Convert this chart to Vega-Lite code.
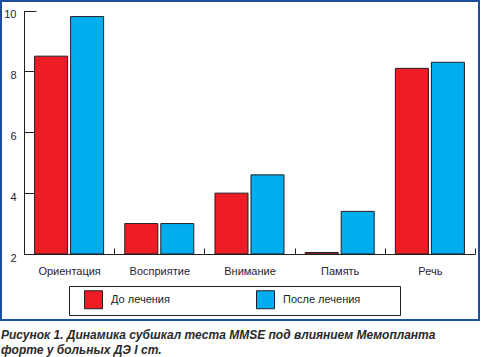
{
  "$schema": "https://vega.github.io/schema/vega-lite/v6.json",
  "width": 478,
  "height": 319,
  "autosize": {"type": "none"},
  "padding": {"left": 1, "top": 1, "right": 2, "bottom": 37},
  "background": "white",
  "config": {
    "view": {"stroke": "#1d4f9f", "strokeWidth": 2},
    "font": "Liberation Sans"
  },
  "title": {
    "text": ["Рисунок 1. Динамика субшкал теста MMSE под влиянием Мемопланта", "форте у больных ДЭ I ст."],
    "orient": "bottom",
    "anchor": "start",
    "frame": "group",
    "offset": 10,
    "font": "Liberation Sans",
    "fontSize": 12,
    "fontWeight": "bold",
    "fontStyle": "italic",
    "color": "#2a2a2a",
    "lineHeight": 15
  },
  "data": {
    "values": [
      {"category": "Ориентация", "series": "До лечения", "value": 8.5},
      {"category": "Ориентация", "series": "После лечения", "value": 9.8},
      {"category": "Восприятие", "series": "До лечения", "value": 3.0},
      {"category": "Восприятие", "series": "После лечения", "value": 3.0},
      {"category": "Внимание", "series": "До лечения", "value": 4.0},
      {"category": "Внимание", "series": "После лечения", "value": 4.6},
      {"category": "Память", "series": "До лечения", "value": 2.05},
      {"category": "Память", "series": "После лечения", "value": 3.4},
      {"category": "Речь", "series": "До лечения", "value": 8.1},
      {"category": "Речь", "series": "После лечения", "value": 8.3}
    ]
  },
  "mark": {"type": "bar", "stroke": "#231F20", "strokeWidth": 1},
  "encoding": {
    "x": {
      "field": "category",
      "type": "nominal",
      "sort": ["Ориентация", "Восприятие", "Внимание", "Память", "Речь"],
      "scale": {"range": [23, 474], "paddingInner": 0, "paddingOuter": 0},
      "axis": {
        "orient": "bottom",
        "offset": -66,
        "title": null,
        "tickBand": "extent",
        "tickSize": -6,
        "labelPadding": 17,
        "labelAngle": 0,
        "domainColor": "#231F20",
        "tickColor": "#231F20",
        "labelColor": "#24243a",
        "labelFontSize": 11,
        "labelFont": "Liberation Sans"
      }
    },
    "xOffset": {
      "field": "series",
      "sort": ["До лечения", "После лечения"],
      "scale": {"paddingInner": 0.0833, "paddingOuter": 0.294}
    },
    "y": {
      "field": "value",
      "type": "quantitative",
      "scale": {"domain": [2, 10], "range": [253, 9.5], "nice": false, "zero": false},
      "axis": {
        "orient": "left",
        "offset": -23,
        "title": null,
        "values": [2, 4, 6, 8, 10],
        "grid": false,
        "tickSize": -12,
        "labelPadding": 20,
        "labelOffset": 4,
        "labelFlush": false,
        "labelOverlap": false,
        "domainColor": "#231F20",
        "tickColor": "#231F20",
        "labelColor": "#24243a",
        "labelFontSize": 11,
        "labelFont": "Liberation Sans"
      }
    },
    "y2": {"datum": 2},
    "color": {
      "field": "series",
      "type": "nominal",
      "scale": {"domain": ["До лечения", "После лечения"], "range": ["#EE1C25", "#00AEEF"]},
      "legend": {
        "orient": "none",
        "legendX": 68,
        "legendY": 285,
        "direction": "horizontal",
        "title": ".",
        "titleOrient": "right",
        "titleOpacity": 0,
        "titlePadding": 32,
        "titleFontSize": 11,
        "strokeColor": "#231F20",
        "padding": 4,
        "symbolType": "square",
        "symbolSize": 324,
        "symbolStrokeColor": "#231F20",
        "symbolStrokeWidth": 1,
        "symbolOpacity": 1,
        "symbolOffset": 11,
        "labelOffset": 8,
        "labelFontSize": 11,
        "labelFont": "Liberation Sans",
        "labelColor": "#222222",
        "columnPadding": 75
      }
    }
  }
}
